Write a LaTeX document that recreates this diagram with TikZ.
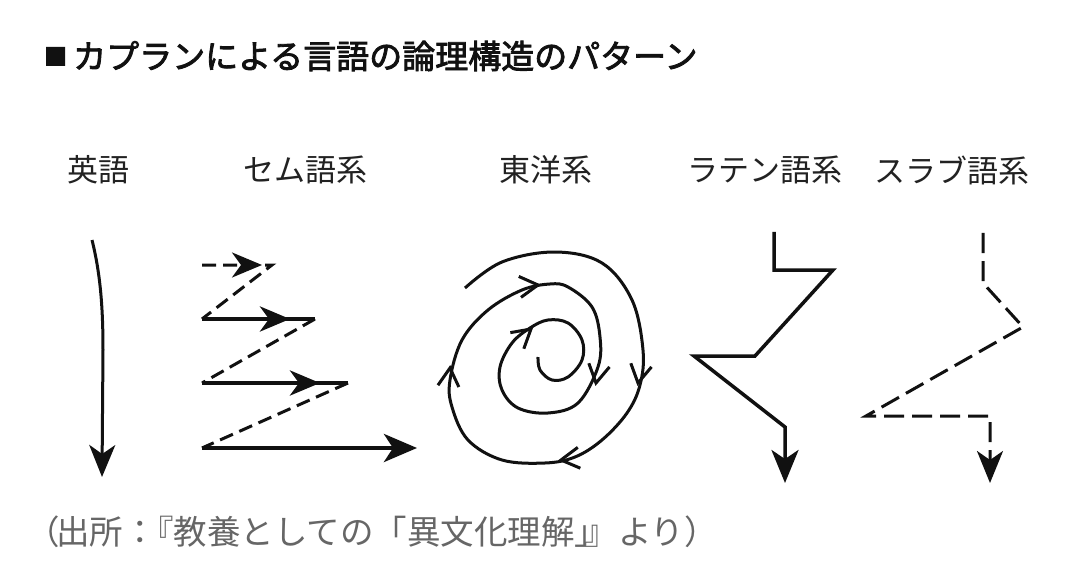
\documentclass[tikz,border=0pt]{standalone}
\usepackage{fontspec}
\setmainfont{Noto Sans CJK JP}
\newfontfamily\titlefont[FakeBold=2.5]{Noto Sans CJK JP}
\usetikzlibrary{arrows.meta,decorations.markings,calc}
\definecolor{ink}{HTML}{111111}
\definecolor{labelink}{HTML}{222222}
\definecolor{footgray}{HTML}{666666}
\newcommand\spiraltip[2]{\draw[barb] ($(#1)+({#2+150}:21)$) -- (#1) -- ($(#1)+({#2+210}:21)$);}
\begin{document}
\begin{tikzpicture}[x=1pt,y=-1pt,
  txt/.style={inner sep=0pt, font=\fontsize{31pt}{31pt}\selectfont},
  lab/.style={txt, text=labelink},
  thin/.style={draw=ink, line width=3pt},
  barb/.style={draw=ink, line width=3pt, line join=miter},
  semsolid/.style={draw=ink, line width=4.5pt},
  semdash/.style={draw=ink, line width=3pt, dash pattern=on 14pt off 7pt, line join=miter},
  latin/.style={draw=ink, line width=3.5pt, line join=miter, miter limit=10},
  slav/.style={draw=ink, line width=3pt, dash pattern=on 20pt off 8pt, line join=miter, miter limit=10},
  bigtip/.style={-{Stealth[length=32pt,width=26pt,inset=9pt]}},
  midarrow/.style={postaction={decorate}, decoration={markings,
     mark=at position #1 with {\arrow{Stealth[length=30pt,width=25pt,inset=9pt]}}}}
]
\useasboundingbox[fill=white] (0,0) rectangle (1080,583);

% title and source
\node[inner sep=0pt, anchor=west, text=ink, font=\titlefont\fontsize{33pt}{33pt}\selectfont] (title) at (44,56)
  {{\fontsize{23pt}{23pt}\selectfont\raisebox{3.5pt}{■}}\kern6pt カプランによる言語の論理構造のパターン};
\node[inner sep=0pt, anchor=west, text=footgray, font=\fontsize{33.5pt}{33.5pt}\selectfont] (src) at (26,532)
  {（\kern-0.1em 出所：\kern-0.5em 『教養としての「異文化理解」\kern-0.7em 』より）};

% labels
\node[lab] (l1) at (98,170) {英語};
\node[lab] (l2) at (305,170) {セム語系};
\node[lab] (l3) at (546,170) {東洋系};
\node[lab] (l4) at (765,170) {ラテン語系};
\node[lab] (l5) at (952,170) {スラブ語系};

% English
\coordinate (e1) at (92,240);
\coordinate (e2) at (103,350);
\coordinate (e3) at (102,477);
\draw[thin, bigtip] (e1) .. controls (100,272) and (103,305) .. (e2) -- (e3);

% Semitic
\coordinate (s1a) at (202,265); \coordinate (s1b) at (272,265);
\coordinate (s2a) at (202,319); \coordinate (s2b) at (315,319);
\coordinate (s3a) at (202,383); \coordinate (s3b) at (348,383);
\coordinate (s4a) at (202,448); \coordinate (s4b) at (417,448);
\draw[semdash, midarrow=60pt] (s1a) -- (s1b) -- (s2a);
\draw[semsolid, midarrow=88pt] (s2a) -- (s2b);
\draw[semdash] (s2b) -- (s3a);
\draw[semsolid, midarrow=118pt] (s3a) -- (s3b);
\draw[semdash] (s3b) -- (s4a);
\draw[semsolid, -{Stealth[length=33pt,width=28pt,inset=9pt]}] (s4a) -- (s4b);

% Oriental spiral
\draw[thin, line cap=butt] plot[smooth, tension=0.6] coordinates {
 (465,288) (502,262) (555,252) (602,263) (632,300) (643,350) (640,385) (627,413)
 (602,440) (575,457) (545,463) (502,460) (468,440) (452,407) (450,380) (462,340)
 (488,310) (522,290) (550,284) (568,287) (592,307) (600,337) (598,367) (578,403)
 (548,413) (518,408) (502,390) (500,367) (512,343) (530,328) (548,320) (568,323)
 (582,340) (582,360) (568,377) (552,380) (540,370) (538,357)};
\coordinate (a1) at (638,383);
\coordinate (a2) at (561,460);
\coordinate (a3) at (450,368);
\coordinate (a4) at (538,285);
\coordinate (a5) at (596,383);
\coordinate (a6) at (531,329);
\spiraltip{a1}{100}
\spiraltip{a2}{173}
\spiraltip{a3}{-85}
\spiraltip{a4}{-6}
\spiraltip{a5}{100}
\spiraltip{a6}{-40}

% Latin
\coordinate (t1) at (774,232); \coordinate (t2) at (774,270);
\coordinate (t3) at (833,270); \coordinate (t4) at (755,356);
\coordinate (t5) at (694,356); \coordinate (t6) at (785,427);
\coordinate (t7) at (785,483);
\draw[latin, -{Stealth[length=33pt,width=27pt,inset=9pt]}] (t1) -- (t2) -- (t3) -- (t4) -- (t5) -- (t6) -- (t7);

% Slavic
\coordinate (v1) at (983,233); \coordinate (v2) at (983,283);
\coordinate (v3) at (1023,327); \coordinate (v4) at (866,416);
\coordinate (v5) at (990,416); \coordinate (v6) at (990,483);
\draw[slav, -{Stealth[length=32pt,width=26pt,inset=9pt]}] (v1) -- (v2) -- (v3) -- (v4) -- (v5) -- (v6);
\end{tikzpicture}
\end{document}
